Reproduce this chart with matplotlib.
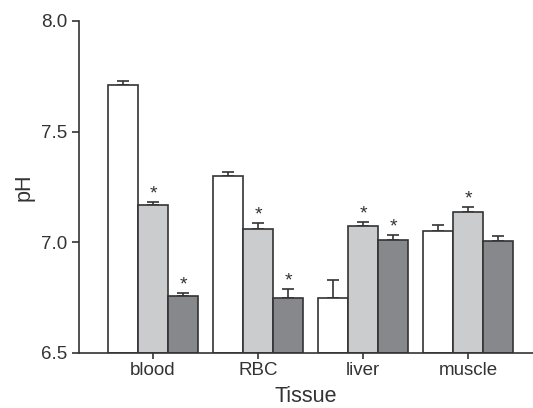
import matplotlib.pyplot as plt
import numpy as np

tissues = ["blood", "RBC", "liver", "muscle"]
# three treatment groups per tissue (white, light gray, dark gray)
ph_white = [7.71, 7.30, 6.75, 7.05]
ph_light = [7.168, 7.06, 7.075, 7.138]
ph_dark = [6.758, 6.747, 7.012, 7.006]
err_white = [0.02, 0.018, 0.08, 0.029]
err_light = [0.012, 0.027, 0.015, 0.023]
err_dark = [0.012, 0.042, 0.022, 0.021]
# significance marks (True = asterisk)
sig_white = [False, False, False, False]
sig_light = [True, True, True, True]
sig_dark = [True, True, True, False]

plt.rcParams["font.family"] = ["Liberation Sans", "DejaVu Sans"]
edge = "#333333"

fig = plt.figure(figsize=(5.33, 4.08), dpi=100)
ax = fig.add_axes([0.149, 0.135, 0.851, 0.814])

x = np.arange(len(tissues))
w = 0.2857
series = [
    (ph_white, err_white, sig_white, "white", -w),
    (ph_light, err_light, sig_light, "#cbcccd", 0),
    (ph_dark, err_dark, sig_dark, "#87888b", w),
]
for vals, errs, sigs, col, off in series:
    ax.bar(x + off, np.array(vals) - 6.5, w, bottom=6.5, color=col,
           edgecolor=edge, linewidth=1.2, zorder=2)
    ax.errorbar(x + off, vals, yerr=[np.zeros(len(errs)), errs], fmt="none",
                ecolor=edge, elinewidth=1.2, capsize=4, capthick=1.2, zorder=1)
    for xi, v, e, s in zip(x + off, vals, errs, sigs):
        if s:
            ax.annotate("*", (xi, v + e), xytext=(0, 2.5), textcoords="offset points",
                        ha="center", va="baseline", fontsize=14, color=edge)

ax.set_xlim(-0.702, 3.619)
ax.set_ylim(6.5, 8.0)
ax.set_yticks([6.5, 7.0, 7.5, 8.0])
ax.set_yticklabels(["6.5", "7.0", "7.5", "8.0"])
ax.set_xticks(x)
ax.set_xticklabels(tissues)
ax.set_xlabel("Tissue", fontsize=15.5, color="#333333", labelpad=5)
ax.set_ylabel("pH", fontsize=15.5, color="#333333", labelpad=5)
for sp in ["top", "right"]:
    ax.spines[sp].set_visible(False)
for sp in ["left", "bottom"]:
    ax.spines[sp].set_color(edge)
    ax.spines[sp].set_linewidth(1.2)
ax.tick_params(axis="both", labelsize=13.5, colors=edge, labelcolor="#333333",
               length=5, width=1.2)
ax.tick_params(axis="x", length=4, pad=2.5)

fig.savefig("out.png", dpi=100)
